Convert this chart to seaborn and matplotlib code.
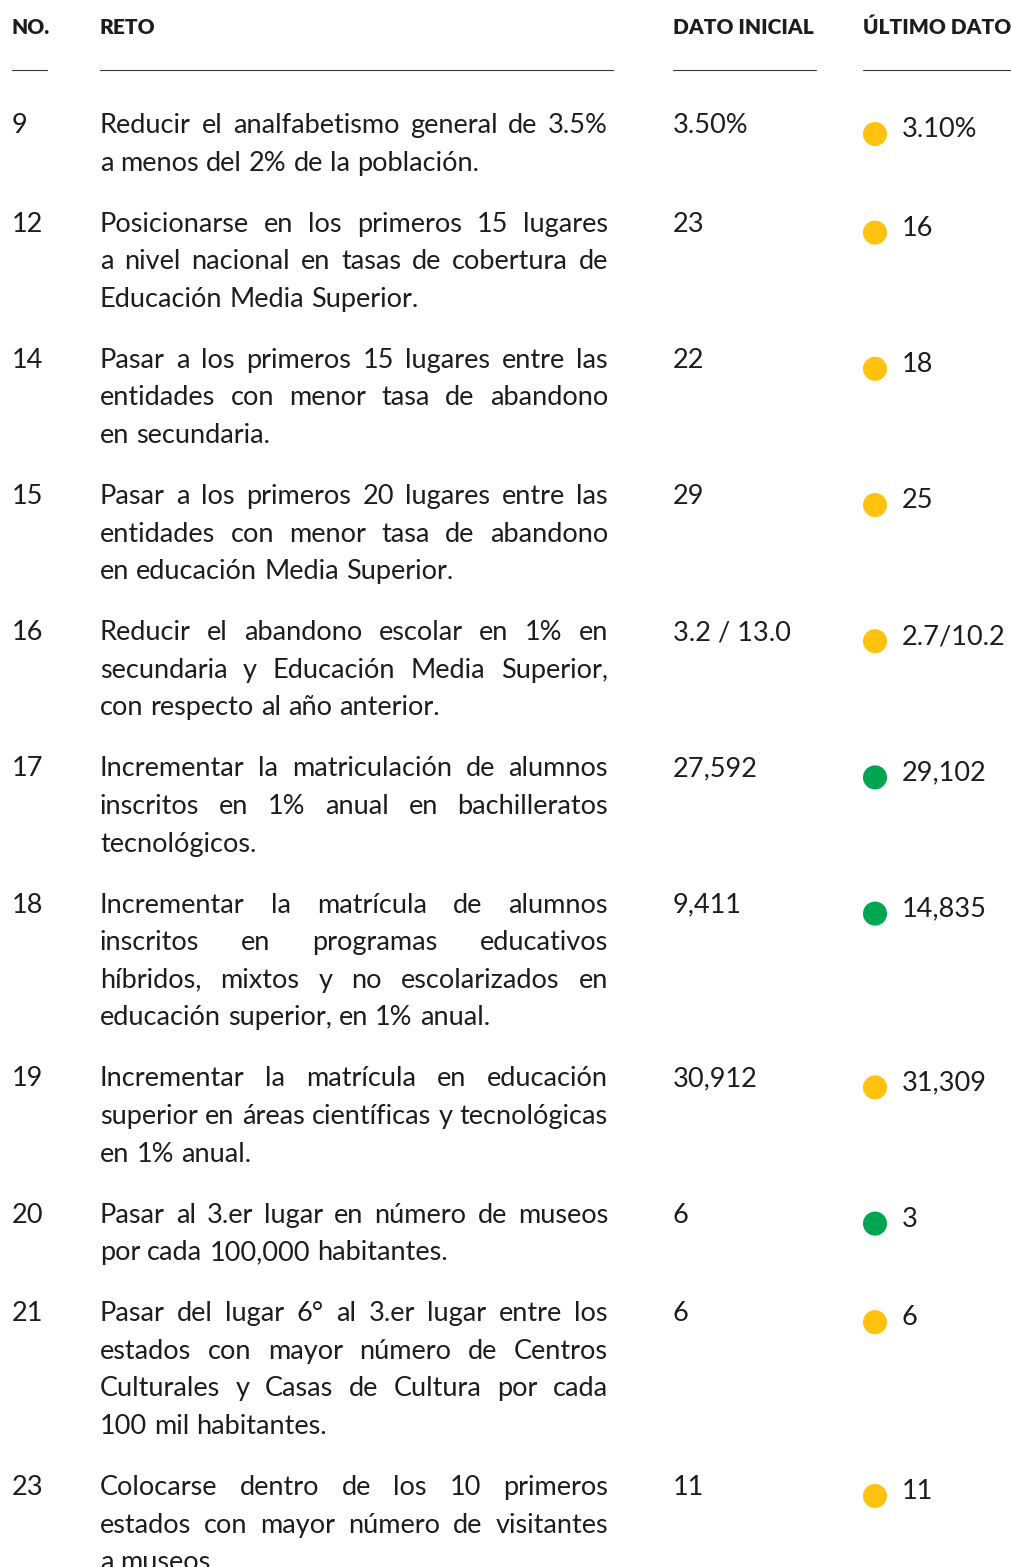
import matplotlib.pyplot as plt
import pandas as pd
import seaborn as sns

numeros = ['9', '12', '14', '15', '16', '17', '18', '19', '20', '21', '23']
retos = [
    'Reducir el analfabetismo general de 3.5%\na menos del 2% de la población.',
    'Posicionarse en los primeros 15 lugares\na nivel nacional en tasas de cobertura de\nEducación Media Superior.',
    'Pasar a los primeros 15 lugares entre las\nentidades con menor tasa de abandono\nen secundaria.',
    'Pasar a los primeros 20 lugares entre las\nentidades con menor tasa de abandono\nen educación Media Superior.',
    'Reducir el abandono escolar en 1% en\nsecundaria y Educación Media Superior,\ncon respecto al año anterior.',
    'Incrementar la matriculación de alumnos\ninscritos en 1% anual en bachilleratos\ntecnológicos.',
    'Incrementar la matrícula de alumnos\ninscritos en programas educativos\nhíbridos, mixtos y no escolarizados en\neducación superior, en 1% anual.',
    'Incrementar la matrícula en educación\nsuperior en áreas científicas y tecnológicas\nen 1% anual.',
    'Pasar al 3.er lugar en número de museos\npor cada 100,000 habitantes.',
    'Pasar del lugar 6° al 3.er lugar entre los\nestados con mayor número de Centros\nCulturales y Casas de Cultura por cada\n100 mil habitantes.',
    'Colocarse dentro de los 10 primeros\nestados con mayor número de visitantes\na museos.',
]
dato_inicial = ['3.50%', '23', '22', '29', '3.2 / 13.0', '27,592', '9,411', '30,912', '6', '6', '11']
ultimo_dato = ['3.10%', '16', '18', '25', '2.7/10.2', '29,102', '14,835', '31,309', '3', '6', '11']
estatus = ['amarillo', 'amarillo', 'amarillo', 'amarillo', 'amarillo', 'verde',
           'verde', 'amarillo', 'verde', 'amarillo', 'amarillo']
encabezados = ['NO.', 'RETO', 'DATO INICIAL', 'ÚLTIMO DATO']

sns.set_theme(style='white')
plt.rcParams['font.family'] = ['Lato', 'DejaVu Sans']

ink = '#1d1d1b'
fig = plt.figure(figsize=(10.12, 15.67), dpi=100)
ax = fig.add_axes([0, 0, 1, 1])
ax.set_xlim(0, 1012)
ax.set_ylim(1567, 0)
ax.axis('off')
renderer = fig.canvas.get_renderer()

fs = 19.5
line_h = 37.6
x_reto, w_reto = 100, 508


def ancho(s):
    t = ax.text(0, 0, s, fontsize=fs)
    w = t.get_window_extent(renderer).width
    t.remove()
    return w


espacio = ancho('a a') - 2 * ancho('a')

# encabezados
col_x = [12, 100, 673, 863]
col_fin = [47, 613, 816, 1012]
for h, x0, x1 in zip(encabezados, col_x, col_fin):
    ax.text(x0, 27, h, fontsize=15, fontweight='heavy', color=ink, va='center', ha='left')
    ax.plot([x0, x1], [70, 70], color='#3a3a3a', lw=0.8)

# filas
y = 133
ys = []
for num, reto, ini, ult in zip(numeros, retos, dato_inicial, ultimo_dato):
    ys.append(y)
    ax.text(12, y, num, fontsize=fs, color=ink, va='baseline')
    ax.text(673, y, ini, fontsize=fs, color=ink, va='baseline')
    ax.text(902, y + 4, ult, fontsize=fs, color=ink, va='baseline')
    lineas = reto.split('\n')
    for i, linea in enumerate(lineas):
        palabras = linea.split(' ')
        anchos = [ancho(p) for p in palabras]
        if i < len(lineas) - 1 and len(palabras) > 1:
            gap = max((w_reto - sum(anchos)) / (len(palabras) - 1), 2)
        else:
            gap = espacio
        x = x_reto
        for p, w in zip(palabras, anchos):
            ax.text(x, y + i * line_h, p, fontsize=fs, color=ink, va='baseline')
            x += w + gap
    y += len(lineas) * line_h + 23.4

puntos = pd.DataFrame({'x': [875] * len(ys), 'y': [v + 1 for v in ys], 'estatus': estatus})
sns.scatterplot(data=puntos, x='x', y='y', hue='estatus',
                palette={'amarillo': '#FFC20E', 'verde': '#00A551'},
                s=300, linewidth=0, legend=False, ax=ax)
ax.set_xlim(0, 1012)
ax.set_ylim(1567, 0)
ax.axis('off')

fig.savefig('out.png', dpi=100)
